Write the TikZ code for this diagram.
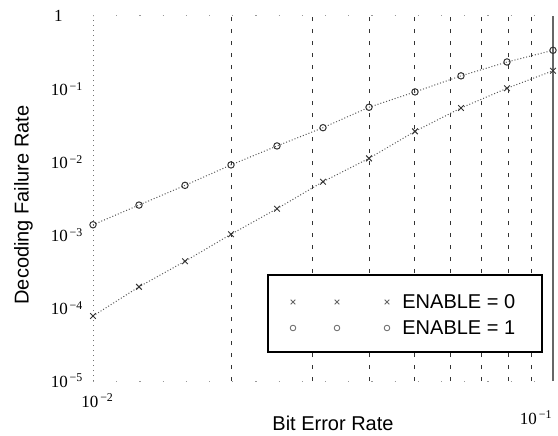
\documentclass[tikz,border=0pt]{standalone}
\usepackage{fontspec}
\setmainfont{Liberation Sans}
\newfontfamily\tickfont{Liberation Serif}
\usetikzlibrary{plotmarks}

\newcommand{\decade}[1]{10\textsuperscript{\,−#1}}

\tikzset{
  grid line/.style={black!80, dash pattern=on 2pt off 4pt, line width=0.5pt},
  axis dots/.style={black!55, dotted, line width=0.5pt},
  edge dots/.style={black!40, dash pattern=on 0.6pt off 11pt, line width=0.5pt},
  data line/.style={black!65, densely dotted, line width=0.5pt},
  tick label/.style={font=\tickfont\fontsize{8.5}{9}\selectfont, inner sep=0pt},
  label text/.style={font=\fontsize{10}{11}\selectfont, inner sep=0pt},
}

\begin{document}
\begin{tikzpicture}[x=0.5pt,y=0.5pt]
\useasboundingbox (0,0) rectangle (558,435);

% u = log10(BER)+2, v = log10(rate)+5
\begin{scope}[shift={(46.5pt,27pt)}, x=230pt, y=36.5pt]
  \draw[axis dots] (0,0) -- (0,5);
  \draw[edge dots] (0,0) -- (1,0);
  \draw[edge dots] (0,5) -- (1,5);
  \foreach \m in {2,...,9}
    \draw[grid line] ({log10(\m)},0) -- ({log10(\m)},5);
  \draw[black!60, line width=1.2pt] (1,0) -- (1,5);

  % ENABLE = 0
  \draw[data line] plot[mark=x, mark size=2pt, mark options={solid, black!80}]
    coordinates {(0,0.89) (0.1,1.29) (0.2,1.64) (0.3,2.01) (0.4,2.36) (0.5,2.73)
                 (0.6,3.05) (0.7,3.42) (0.8,3.74) (0.9,4.01) (1,4.25)};
  % ENABLE = 1
  \draw[data line] plot[mark=o, mark size=1.6pt, mark options={solid, black!80}]
    coordinates {(0,2.14) (0.1,2.41) (0.2,2.68) (0.3,2.96) (0.4,3.22) (0.5,3.47)
                 (0.6,3.75) (0.7,3.96) (0.8,4.18) (0.9,4.37) (1,4.53)};

  % axis numbers
  \node[tick label, anchor=east] (y0) at (-0.065,5) {1};
  \node[tick label, anchor=east] (y1) at (-0.02,4) {\decade{1}};
  \node[tick label, anchor=east] (y2) at (-0.02,3) {\decade{2}};
  \node[tick label, anchor=east] (y3) at (-0.02,2) {\decade{3}};
  \node[tick label, anchor=east] (y4) at (-0.02,1) {\decade{4}};
  \node[tick label, anchor=east] (y5) at (-0.02,0) {\decade{5}};
  \node[tick label, anchor=north] (x2) at (0.01,-0.17) {\decade{2}};
  \node[tick label, anchor=north east] (x1) at (1,-0.4) {\decade{1}};
\end{scope}

% key
\node[draw=black, fill=white, line width=0.8pt, minimum width=137pt,
      minimum height=38.5pt, inner sep=0pt] (key) at (405,121.5) {};
\draw plot[only marks, mark=x, mark size=1.6pt, mark options={black!60}]
  coordinates {(293,133) (337,133) (387,133)};
\draw plot[only marks, mark=o, mark size=1.4pt, mark options={black!60}]
  coordinates {(293,107) (337,107) (387,107)};
\node[label text, anchor=west] (zero) at (402,133) {ENABLE = 0};
\node[label text, anchor=west] (one) at (402,107) {ENABLE = 1};

% axis titles
\node[label text] (xtitle) at (333,12) {Bit Error Rate};
\node[label text, rotate=90] (ytitle) at (23.5,230) {Decoding Failure Rate};
\end{tikzpicture}
\end{document}
